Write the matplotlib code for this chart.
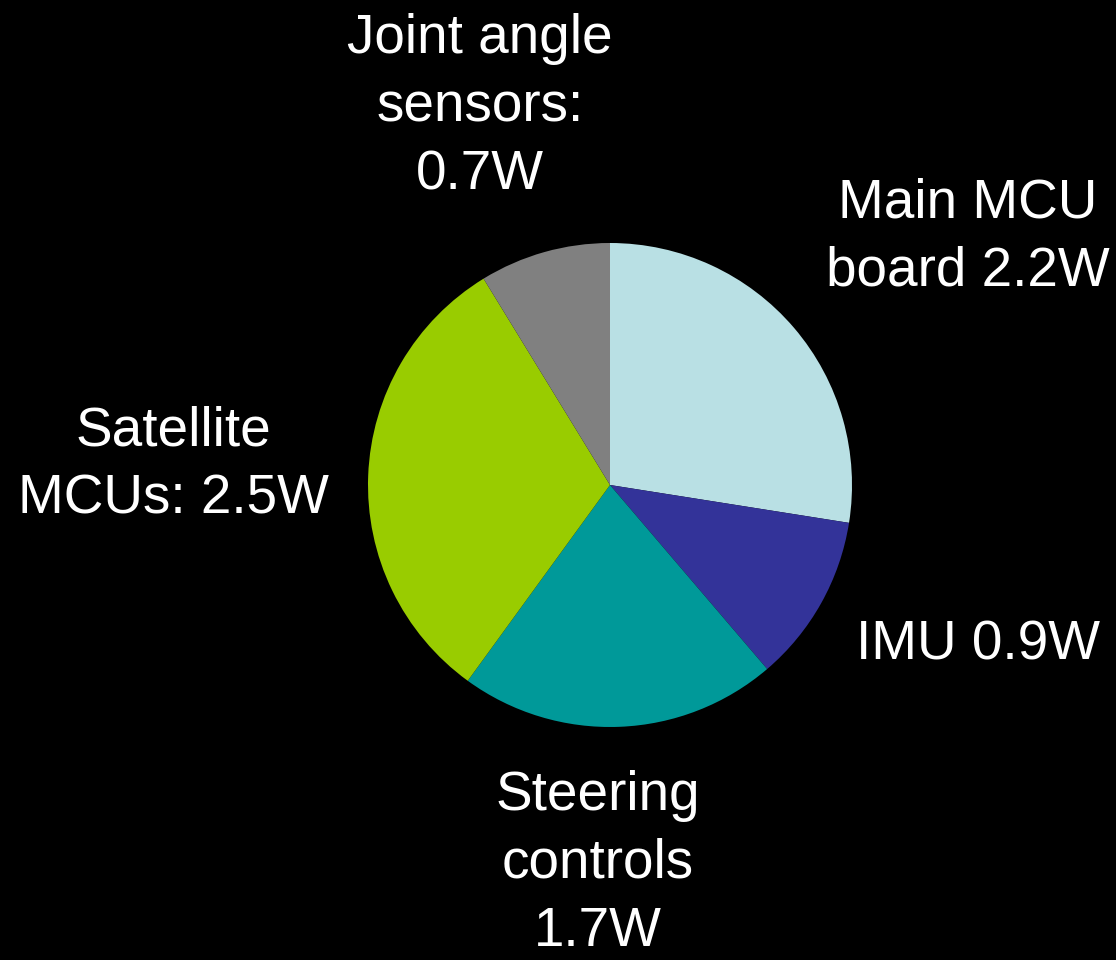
import matplotlib
matplotlib.use("Agg")
import matplotlib.pyplot as plt

# power budget (W), clockwise from 12 o'clock
components = ["Main MCU board", "IMU", "Steering controls", "Satellite MCUs", "Joint angle sensors"]
power_w = [2.2, 0.9, 1.7, 2.5, 0.7]
slice_colors = ["#B9E0E4", "#333399", "#009999", "#99CC00", "#808080"]
label_texts = [
    "Main MCU\nboard 2.2W",
    "IMU 0.9W",
    "Steering\ncontrols\n1.7W",
    "Satellite\nMCUs: 2.5W",
    "Joint angle\nsensors:\n0.7W",
]

W, H = 1116, 960
fig = plt.figure(figsize=(W / 100, H / 100), dpi=100, facecolor="black")

# pie centre ~(610, 485) px, radius ~242 px
cx, cy, r = 610, 485, 242
ax = fig.add_axes([(cx - r) / W, (H - cy - r) / H, 2 * r / W, 2 * r / H])
ax.set_facecolor("black")
ax.pie(power_w, colors=slice_colors, startangle=90, counterclock=False,
       radius=1.0, wedgeprops={"linewidth": 0})
ax.set_xlim(-1, 1)
ax.set_ylim(-1, 1)
ax.set_aspect("equal")
ax.axis("off")

# label anchor points in pixels (centre of each text block)
label_px = [(968, 238), (978, 646), (598, 864), (173, 466), (480, 107)]
for txt, (px, py) in zip(label_texts, label_px):
    fig.text(px / W, 1 - py / H, txt, color="white", fontsize=39.5,
             family="Liberation Sans", ha="center", va="center",
             multialignment="center", linespacing=1.4)

fig.savefig("out.png", dpi=100, facecolor="black")
